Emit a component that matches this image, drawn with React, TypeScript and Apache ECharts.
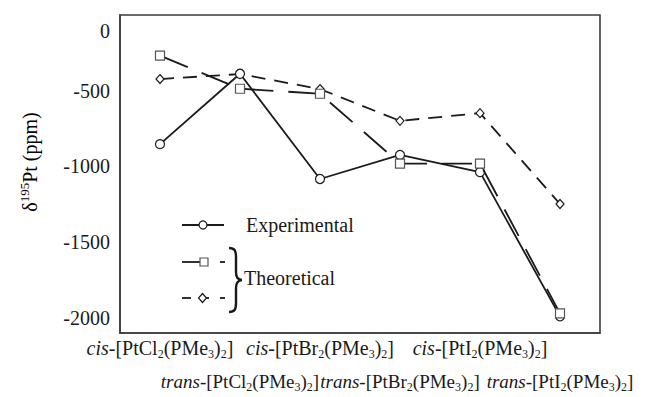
import React, { useEffect, useRef } from 'react';
import * as echarts from 'echarts';

// Platinum complexes along the x axis (cis / trans pairs)
const compounds = [
  'cis-[PtCl2(PMe3)2]',
  'trans-[PtCl2(PMe3)2]',
  'cis-[PtBr2(PMe3)2]',
  'trans-[PtBr2(PMe3)2]',
  'cis-[PtI2(PMe3)2]',
  'trans-[PtI2(PMe3)2]',
];

// 195Pt chemical shifts (ppm)
const experimental = [-853, -388, -1083, -924, -1038, -1990];
const theoreticalSquare = [-268, -487, -520, -981, -981, -1970];
const theoreticalDiamond = [-423, -390, -489, -699, -648, -1248];

// five minor ticks per compound slot on the x axis
const minorSlots = Array.from({ length: 30 }, () => '');

const FONT = 'Liberation Serif, DejaVu Serif, serif';
const INK = '#1a1a1a';
const FRAME = '#3c3c3c';

// brace that groups the two theoretical legend entries
const bracePath =
  'M0 0 C6 0 7 3 7 9 L7 24 C7 29 9 32 13 32 C9 32 7 35 7 40 L7 55 C7 61 6 64 0 64';
echarts.graphic.registerShape('brace', echarts.graphic.extendPath(bracePath, {}));

const toRich = (name: string) =>
  name.replace(/^(cis|trans)/, '{i|$1}').replace(/(\d)/g, '{s|$1}');

const makeRich = (size: number) => ({
  i: { fontStyle: 'italic', fontFamily: FONT, fontSize: size, color: INK },
  s: { fontFamily: FONT, fontSize: 12, color: INK, padding: [12, 0, 0, 0] },
});

export default function App() {
  const ref = useRef<HTMLDivElement>(null);

  useEffect(() => {
    if (!ref.current) return;
    const chart = echarts.init(ref.current, null, { renderer: 'svg' });

    const lineStyleBase = { color: INK, width: 1.8 };

    const option: any = {
      animation: false,
      backgroundColor: '#ffffff',
      textStyle: { fontFamily: FONT },
      grid: {
        left: 120,
        right: 48,
        top: 15,
        bottom: 64,
        show: true,
        borderColor: FRAME,
        borderWidth: 1.6,
        containLabel: false,
      },
      xAxis: [
        {
          type: 'category',
          position: 'bottom',
          data: compounds,
          boundaryGap: true,
          axisLine: { onZero: false, lineStyle: { color: FRAME, width: 1.6 } },
          axisTick: {
            inside: true,
            length: 10,
            alignWithLabel: true,
            interval: 0,
            lineStyle: { color: FRAME, width: 1.3 },
          },
          axisLabel: {
            interval: 0,
            margin: 3,
            fontFamily: FONT,
            fontSize: 20,
            color: INK,
            rich: makeRich(20),
            formatter: (v: string, i: number) => (i % 2 === 0 ? toRich(v) : ''),
          },
          splitLine: { show: false },
        },
        {
          type: 'category',
          position: 'bottom',
          data: minorSlots,
          boundaryGap: true,
          axisLine: { show: false, onZero: false },
          axisTick: {
            inside: true,
            length: 4,
            alignWithLabel: true,
            interval: 0,
            lineStyle: { color: FRAME, width: 1.2 },
          },
          axisLabel: { show: false },
          splitLine: { show: false },
        },
        {
          type: 'category',
          position: 'bottom',
          data: compounds,
          boundaryGap: true,
          axisLine: { show: false, onZero: false },
          axisTick: { show: false },
          axisLabel: {
            interval: 0,
            margin: 36,
            fontFamily: FONT,
            fontSize: 19,
            color: INK,
            rich: makeRich(19),
            formatter: (v: string, i: number) => (i % 2 === 1 ? toRich(v) : ''),
          },
          splitLine: { show: false },
        },
      ],
      yAxis: [
        {
          type: 'value',
          position: 'left',
          min: -2100,
          max: 0,
          interval: 100,
          axisLine: { show: true, onZero: false, lineStyle: { color: FRAME, width: 1.6 } },
          axisTick: { inside: true, length: 5, lineStyle: { color: FRAME, width: 1.2 } },
          axisLabel: { show: false },
          splitLine: { show: false },
        },
        {
          // labelled major ticks every 500 ppm, measured downward from 0
          type: 'value',
          position: 'left',
          inverse: true,
          min: 0,
          max: 2100,
          interval: 500,
          axisLine: { show: false, onZero: false },
          axisTick: { inside: true, length: 10, lineStyle: { color: FRAME, width: 1.3 } },
          axisLabel: {
            margin: 10,
            fontFamily: FONT,
            fontSize: 20,
            color: INK,
            rich: { z: { fontFamily: FONT, fontSize: 20, color: INK, padding: [32, 0, 0, 0] } },
            formatter: (v: number) => (v === 0 ? '{z|0}' : v > 2000 ? '' : '-' + v),
          },
          splitLine: { show: false },
        },
      ],
      series: [
        {
          name: 'Experimental',
          type: 'line',
          xAxisIndex: 0,
          yAxisIndex: 0,
          data: experimental,
          symbol: 'circle',
          symbolSize: 9,
          showAllSymbol: true,
          lineStyle: { ...lineStyleBase, type: 'solid' },
          itemStyle: { color: '#ffffff', borderColor: INK, borderWidth: 1.2 },
          z: 4,
        },
        {
          name: 'Theoretical (square)',
          type: 'line',
          xAxisIndex: 0,
          yAxisIndex: 0,
          data: theoreticalSquare,
          symbol: 'rect',
          symbolSize: 9,
          showAllSymbol: true,
          lineStyle: { ...lineStyleBase, type: [30, 15] },
          itemStyle: { color: '#ffffff', borderColor: '#555555', borderWidth: 1.2 },
          z: 5,
        },
        {
          name: 'Theoretical (diamond)',
          type: 'line',
          xAxisIndex: 0,
          yAxisIndex: 0,
          data: theoreticalDiamond,
          symbol: 'diamond',
          symbolSize: [8, 9],
          showAllSymbol: true,
          lineStyle: { ...lineStyleBase, type: [14, 9] },
          itemStyle: { color: '#ffffff', borderColor: INK, borderWidth: 1.2 },
          z: 3,
        },
      ],
      graphic: [
        // y axis title
        {
          type: 'text',
          x: 30,
          y: 162,
          rotation: Math.PI / 2,
          style: {
            text: '{d|δ}{sup|195}{d|Pt (ppm)}',
            align: 'center',
            verticalAlign: 'middle',
            rich: {
              d: { fontFamily: FONT, fontSize: 20, color: INK },
              sup: { fontFamily: FONT, fontSize: 13, color: INK, padding: [0, 0, 12, 0] },
            },
          },
        },
        // Experimental
        { type: 'line', shape: { x1: 182, y1: 225, x2: 224, y2: 225 }, style: { stroke: INK, lineWidth: 1.8 } },
        { type: 'circle', shape: { cx: 203, cy: 225, r: 4 }, style: { fill: '#fff', stroke: INK, lineWidth: 1.2 } },
        {
          type: 'text',
          x: 246,
          y: 225,
          style: { text: 'Experimental', fontFamily: FONT, fontSize: 20, fill: INK, verticalAlign: 'middle' },
        },
        // Theoretical, squares
        { type: 'line', shape: { x1: 182, y1: 262, x2: 200, y2: 262 }, style: { stroke: INK, lineWidth: 1.8 } },
        { type: 'rect', shape: { x: 200, y: 258, width: 8, height: 8 }, style: { fill: '#fff', stroke: '#555', lineWidth: 1.2 } },
        { type: 'line', shape: { x1: 220, y1: 262, x2: 225, y2: 262 }, style: { stroke: INK, lineWidth: 1.8 } },
        // Theoretical, diamonds
        { type: 'line', shape: { x1: 182, y1: 298, x2: 191, y2: 298 }, style: { stroke: INK, lineWidth: 1.8 } },
        { type: 'line', shape: { x1: 206, y1: 298, x2: 209, y2: 298 }, style: { stroke: INK, lineWidth: 1.8 } },
        {
          type: 'polygon',
          shape: { points: [[202.5, 293.5], [206.5, 298], [202.5, 302.5], [198.5, 298]] },
          style: { fill: '#fff', stroke: INK, lineWidth: 1.2 },
        },
        { type: 'line', shape: { x1: 220, y1: 298, x2: 225, y2: 298 }, style: { stroke: INK, lineWidth: 1.8 } },
        // grouping brace and its label
        { type: 'brace', x: 229, y: 248, style: { stroke: INK, lineWidth: 2.4, fill: 'none' } },
        {
          type: 'text',
          x: 244,
          y: 278,
          style: { text: 'Theoretical', fontFamily: FONT, fontSize: 20, fill: INK, verticalAlign: 'middle' },
        },
      ],
    };

    chart.setOption(option);
    return () => chart.dispose();
  }, []);

  return (
    <div
      ref={ref}
      style={{ position: 'fixed', left: 0, top: 0, width: 648, height: 397, background: '#fff' }}
    />
  );
}
